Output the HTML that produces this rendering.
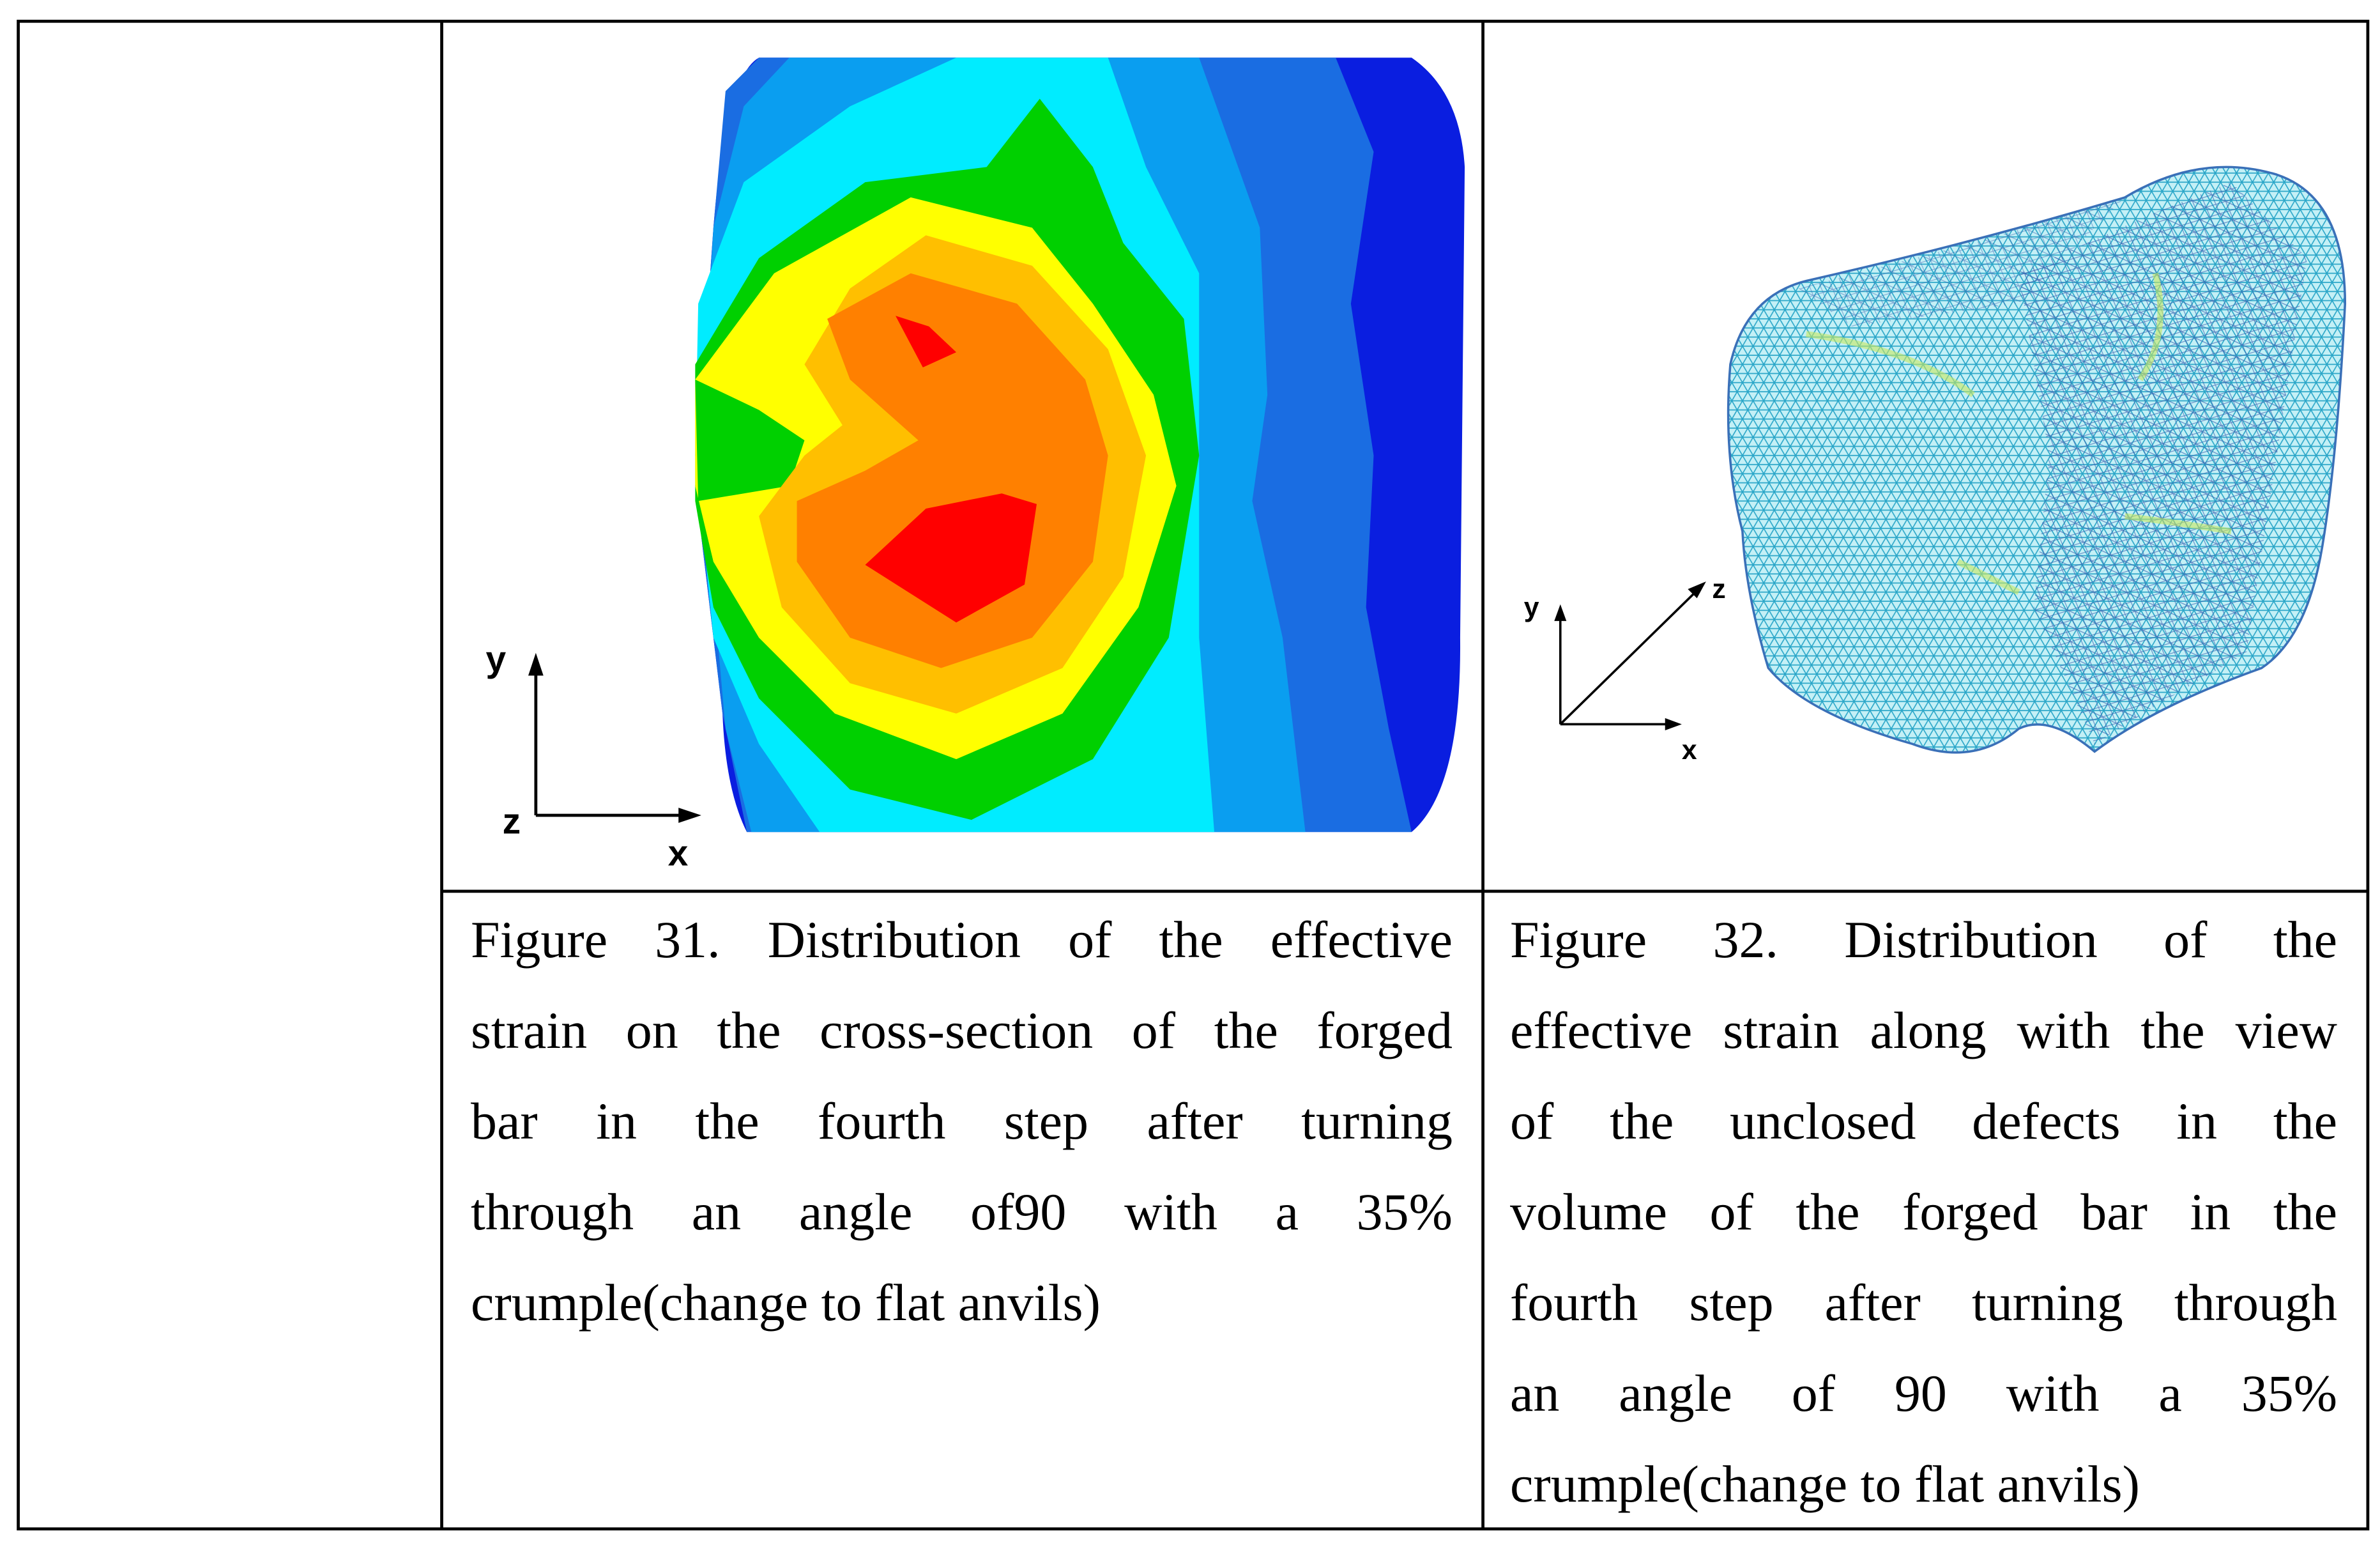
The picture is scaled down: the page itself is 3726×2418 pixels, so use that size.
<!DOCTYPE html>
<html><head><meta charset="utf-8">
<style>
html,body{margin:0;padding:0;background:#fff;}
body{width:3726px;height:2418px;position:relative;overflow:hidden;}
svg{position:absolute;left:0;top:0;}
.cap{position:absolute;font-family:"Liberation Serif",serif;font-size:82px;line-height:142px;color:#000;}
.cap div{text-align:justify;text-align-last:justify;white-space:nowrap;}
.cap div.last{text-align:left;text-align-last:left;}
</style></head>
<body>
<svg width="3726" height="2418" viewBox="0 0 1568 1017.6">
<defs>
<pattern id="mesh" width="14" height="12" patternUnits="userSpaceOnUse">
<path d="M0 0L14 0M0 6L14 6M0 12L14 12M0 0L7 12M7 0L14 12M7 0L0 12M14 0L7 12" stroke="#2aa6c8" stroke-width="0.7" fill="none"/>
</pattern>
<pattern id="mesh2" width="10" height="9" patternUnits="userSpaceOnUse" patternTransform="rotate(25)">
<path d="M0 0L10 9M10 0L0 9M0 4.5L10 4.5" stroke="#3a60b0" stroke-width="0.5" fill="none"/>
</pattern>
</defs>
<g stroke="#000" stroke-width="2" fill="none">
<rect x="12" y="14" width="1548" height="993"/>
<line x1="291" y1="14" x2="291" y2="1007"/>
<line x1="977" y1="14" x2="977" y2="1007"/>
<line x1="291" y1="587" x2="1560" y2="587"/>
</g>
<g>
<path d="M500,38 L930,38 Q962,60 965,110 L962,420 Q963,520 930,548 L492,548 Q478,520 476,470 L458,320 L470,150 Q478,50 500,38Z" fill="#0a1ee0"/>
<polygon fill="#1a6de2" points="500,38 880,38 905,100 890,200 905,300 900,400 915,480 930,548 492,548 476,470 458,320 470,150 478,60"/>
<polygon fill="#0a9ef0" points="520,38 790,38 830,150 835,260 825,330 845,420 860,548 495,548 478,480 462,300 470,150 490,70"/>
<polygon fill="#00ecff" points="630,38 730,38 755,110 790,180 790,300 790,420 800,548 540,548 500,490 470,420 458,300 460,200 490,120 560,70"/>
<polygon fill="#00d000" points="685,65 720,110 740,160 780,210 790,300 770,420 720,500 640,540 560,520 500,460 470,400 458,330 458,240 500,170 570,120 650,110"/>
<polygon fill="#ffff00" points="600,130 680,150 720,200 760,260 775,320 750,400 700,470 630,500 550,470 500,420 470,370 458,320 458,250 510,180"/>
<polygon fill="#00d000" points="458,250 500,270 530,290 520,320 460,330"/>
<polygon fill="#ffbf00" points="610,155 680,175 730,230 755,300 740,380 700,440 630,470 560,450 515,400 500,340 530,300 555,280 530,240 560,190"/>
<polygon fill="#ff8000" points="600,180 670,200 715,250 730,300 720,370 680,420 620,440 560,420 525,370 525,330 570,310 605,290 560,250 545,210"/>
<polygon fill="#ff0000" points="590,208 612,215 630,232 608,242"/>
<polygon fill="#ff0000" points="570,372 610,335 660,325 683,332 675,385 630,410"/>
</g>
<g stroke="#000" stroke-width="2" fill="#000">
<line x1="353" y1="537" x2="353" y2="440"/>
<polygon points="353,430 348,445 358,445" stroke="none"/>
<line x1="353" y1="537" x2="452" y2="537"/>
<polygon points="462,537 447,532 447,542" stroke="none"/>
</g>
<g font-family="Liberation Sans, sans-serif" font-weight="bold" font-size="24" fill="#000">
<text x="320" y="442">y</text>
<text x="331" y="549">z</text>
<text x="440" y="570">x</text>
</g>
<g>
<path fill="#c4f0f6" d="M1140,240 Q1150,195 1190,185 Q1300,160 1400,130 Q1450,100 1500,115 Q1545,130 1545,200 Q1540,300 1530,360 Q1520,420 1490,440 Q1420,465 1380,495 Q1350,470 1330,480 Q1300,505 1260,490 Q1190,470 1165,440 Q1150,390 1148,350 Q1135,300 1140,240Z"/>
<path fill="url(#mesh)" d="M1140,240 Q1150,195 1190,185 Q1300,160 1400,130 Q1450,100 1500,115 Q1545,130 1545,200 Q1540,300 1530,360 Q1520,420 1490,440 Q1420,465 1380,495 Q1350,470 1330,480 Q1300,505 1260,490 Q1190,470 1165,440 Q1150,390 1148,350 Q1135,300 1140,240Z"/>
<polygon fill="url(#mesh2)" opacity="0.7" points="1330,180 1420,140 1470,120 1520,170 1500,300 1480,430 1420,465 1380,490 1340,400 1350,300"/>
<polygon fill="url(#mesh2)" opacity="0.5" points="1185,190 1300,160 1400,130 1330,200 1220,215"/>
<path d="M1190,220 Q1260,230 1300,260 M1290,370 Q1310,380 1330,390 M1420,180 Q1430,220 1410,250 M1400,340 Q1440,345 1470,350" stroke="#c8e860" stroke-width="4" fill="none" opacity="0.6"/>
<path fill="none" stroke="#3a70b8" stroke-width="1.5" d="M1140,240 Q1150,195 1190,185 Q1300,160 1400,130 Q1450,100 1500,115 Q1545,130 1545,200 Q1540,300 1530,360 Q1520,420 1490,440 Q1420,465 1380,495 Q1350,470 1330,480 Q1300,505 1260,490 Q1190,470 1165,440 Q1150,390 1148,350 Q1135,300 1140,240Z"/>
</g>
<g stroke="#000" stroke-width="1.5" fill="#000">
<line x1="1028" y1="477" x2="1028" y2="406"/>
<polygon points="1028,398 1024,409 1032,409" stroke="none"/>
<line x1="1028" y1="477" x2="1100" y2="477"/>
<polygon points="1108,477 1097,473 1097,481" stroke="none"/>
<line x1="1028" y1="477" x2="1118" y2="389"/>
<polygon points="1124,383 1112,388 1118,394" stroke="none"/>
</g>
<g font-family="Liberation Sans, sans-serif" font-weight="bold" font-size="18" fill="#000">
<text x="1004" y="406">y</text>
<text x="1128" y="394">z</text>
<text x="1108" y="500">x</text>
</g>
</svg>
<div class="cap" style="left:737px;top:1400px;width:1537px;">
<div>Figure 31. Distribution of the effective</div>
<div>strain on the cross-section of the forged</div>
<div>bar in the fourth step after turning</div>
<div>through an angle of90 with a 35%</div>
<div class="last">crumple(change to flat anvils)</div>
</div>
<div class="cap" style="left:2364px;top:1400px;width:1295px;">
<div>Figure 32. Distribution of the</div>
<div>effective strain along with the view</div>
<div>of the unclosed defects in the</div>
<div>volume of the forged bar in the</div>
<div>fourth step after turning through</div>
<div>an angle of 90 with a 35%</div>
<div class="last">crumple(change to flat anvils)</div>
</div>
</body></html>
